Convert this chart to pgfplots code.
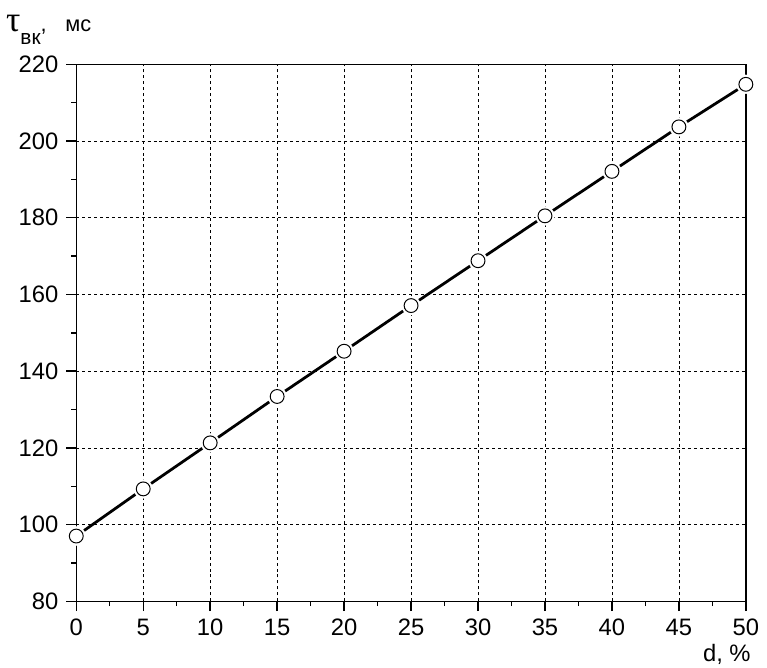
\documentclass[border=0pt]{standalone}
\usepackage{fontspec}
\setmainfont{Liberation Sans}
\newfontfamily\serifgr{Liberation Serif}
\usepackage{pgfplots}
\pgfplotsset{compat=1.18}
\usetikzlibrary{calc}
\begin{document}
\fontsize{24}{28}\selectfont
\begin{tikzpicture}
\begin{axis}[
  scale only axis, width=676pt, height=542pt,
  xmin=0, xmax=50, ymin=80, ymax=220,
  xtick={0,5,...,50}, ytick={80,100,...,220},
  minor x tick num=1, minor y tick num=1,
  axis line style={line width=1.4pt},
  every tick/.style={line width=1.4pt, black},
  major tick length=10pt, minor tick length=5pt,
  tick align=outside,
  xtick pos=bottom, ytick pos=left,
  grid=major,
  major grid style={dash pattern=on 3pt off 3pt, black, line width=0.7pt},
  /pgf/number format/assume math mode=true,
  tick label style={font=\fontsize{24}{28}\selectfont},
]
\addplot[black, line width=2.8pt, mark=none] coordinates {
(0,97.0) (5,109.3) (10,121.3) (15,133.4) (20,145.2) (25,157.1) (30,168.8) (35,180.5) (40,192.1) (45,203.7) (50,214.8)};
\addplot[only marks, mark=*, mark size=9.5pt, mark options={draw=white, fill=white}] coordinates {
(0,97.0) (5,109.3) (10,121.3) (15,133.4) (20,145.2) (25,157.1) (30,168.8) (35,180.5) (40,192.1) (45,203.7) (50,214.8)};
\addplot[only marks, mark=*, mark size=7pt, mark options={draw=black, fill=white, line width=1pt}] coordinates {
(0,97.0) (5,109.3) (10,121.3) (15,133.4) (20,145.2) (25,157.1) (30,168.8) (35,180.5) (40,192.1) (45,203.7) (50,214.8)};
\end{axis}
\node[anchor=base west, inner sep=0pt] at ($(current axis.north west)+(-71pt,33pt)$)
  {{\fontsize{36}{36}\serifgr τ}\raisebox{-13pt}{\fontsize{21}{21}\selectfont вк}{\fontsize{22}{22}\selectfont ,\hspace{19pt}мс}};
\node[anchor=base east, inner sep=0pt] at ($(current axis.south east)+(5pt,-61pt)$)
  {\fontsize{24}{28}\selectfont d, \%};
\path ($(current axis.south west)+(-77pt,-67pt)$) rectangle ($(current axis.north east)+(14pt,65pt)$);
\end{tikzpicture}
\end{document}
